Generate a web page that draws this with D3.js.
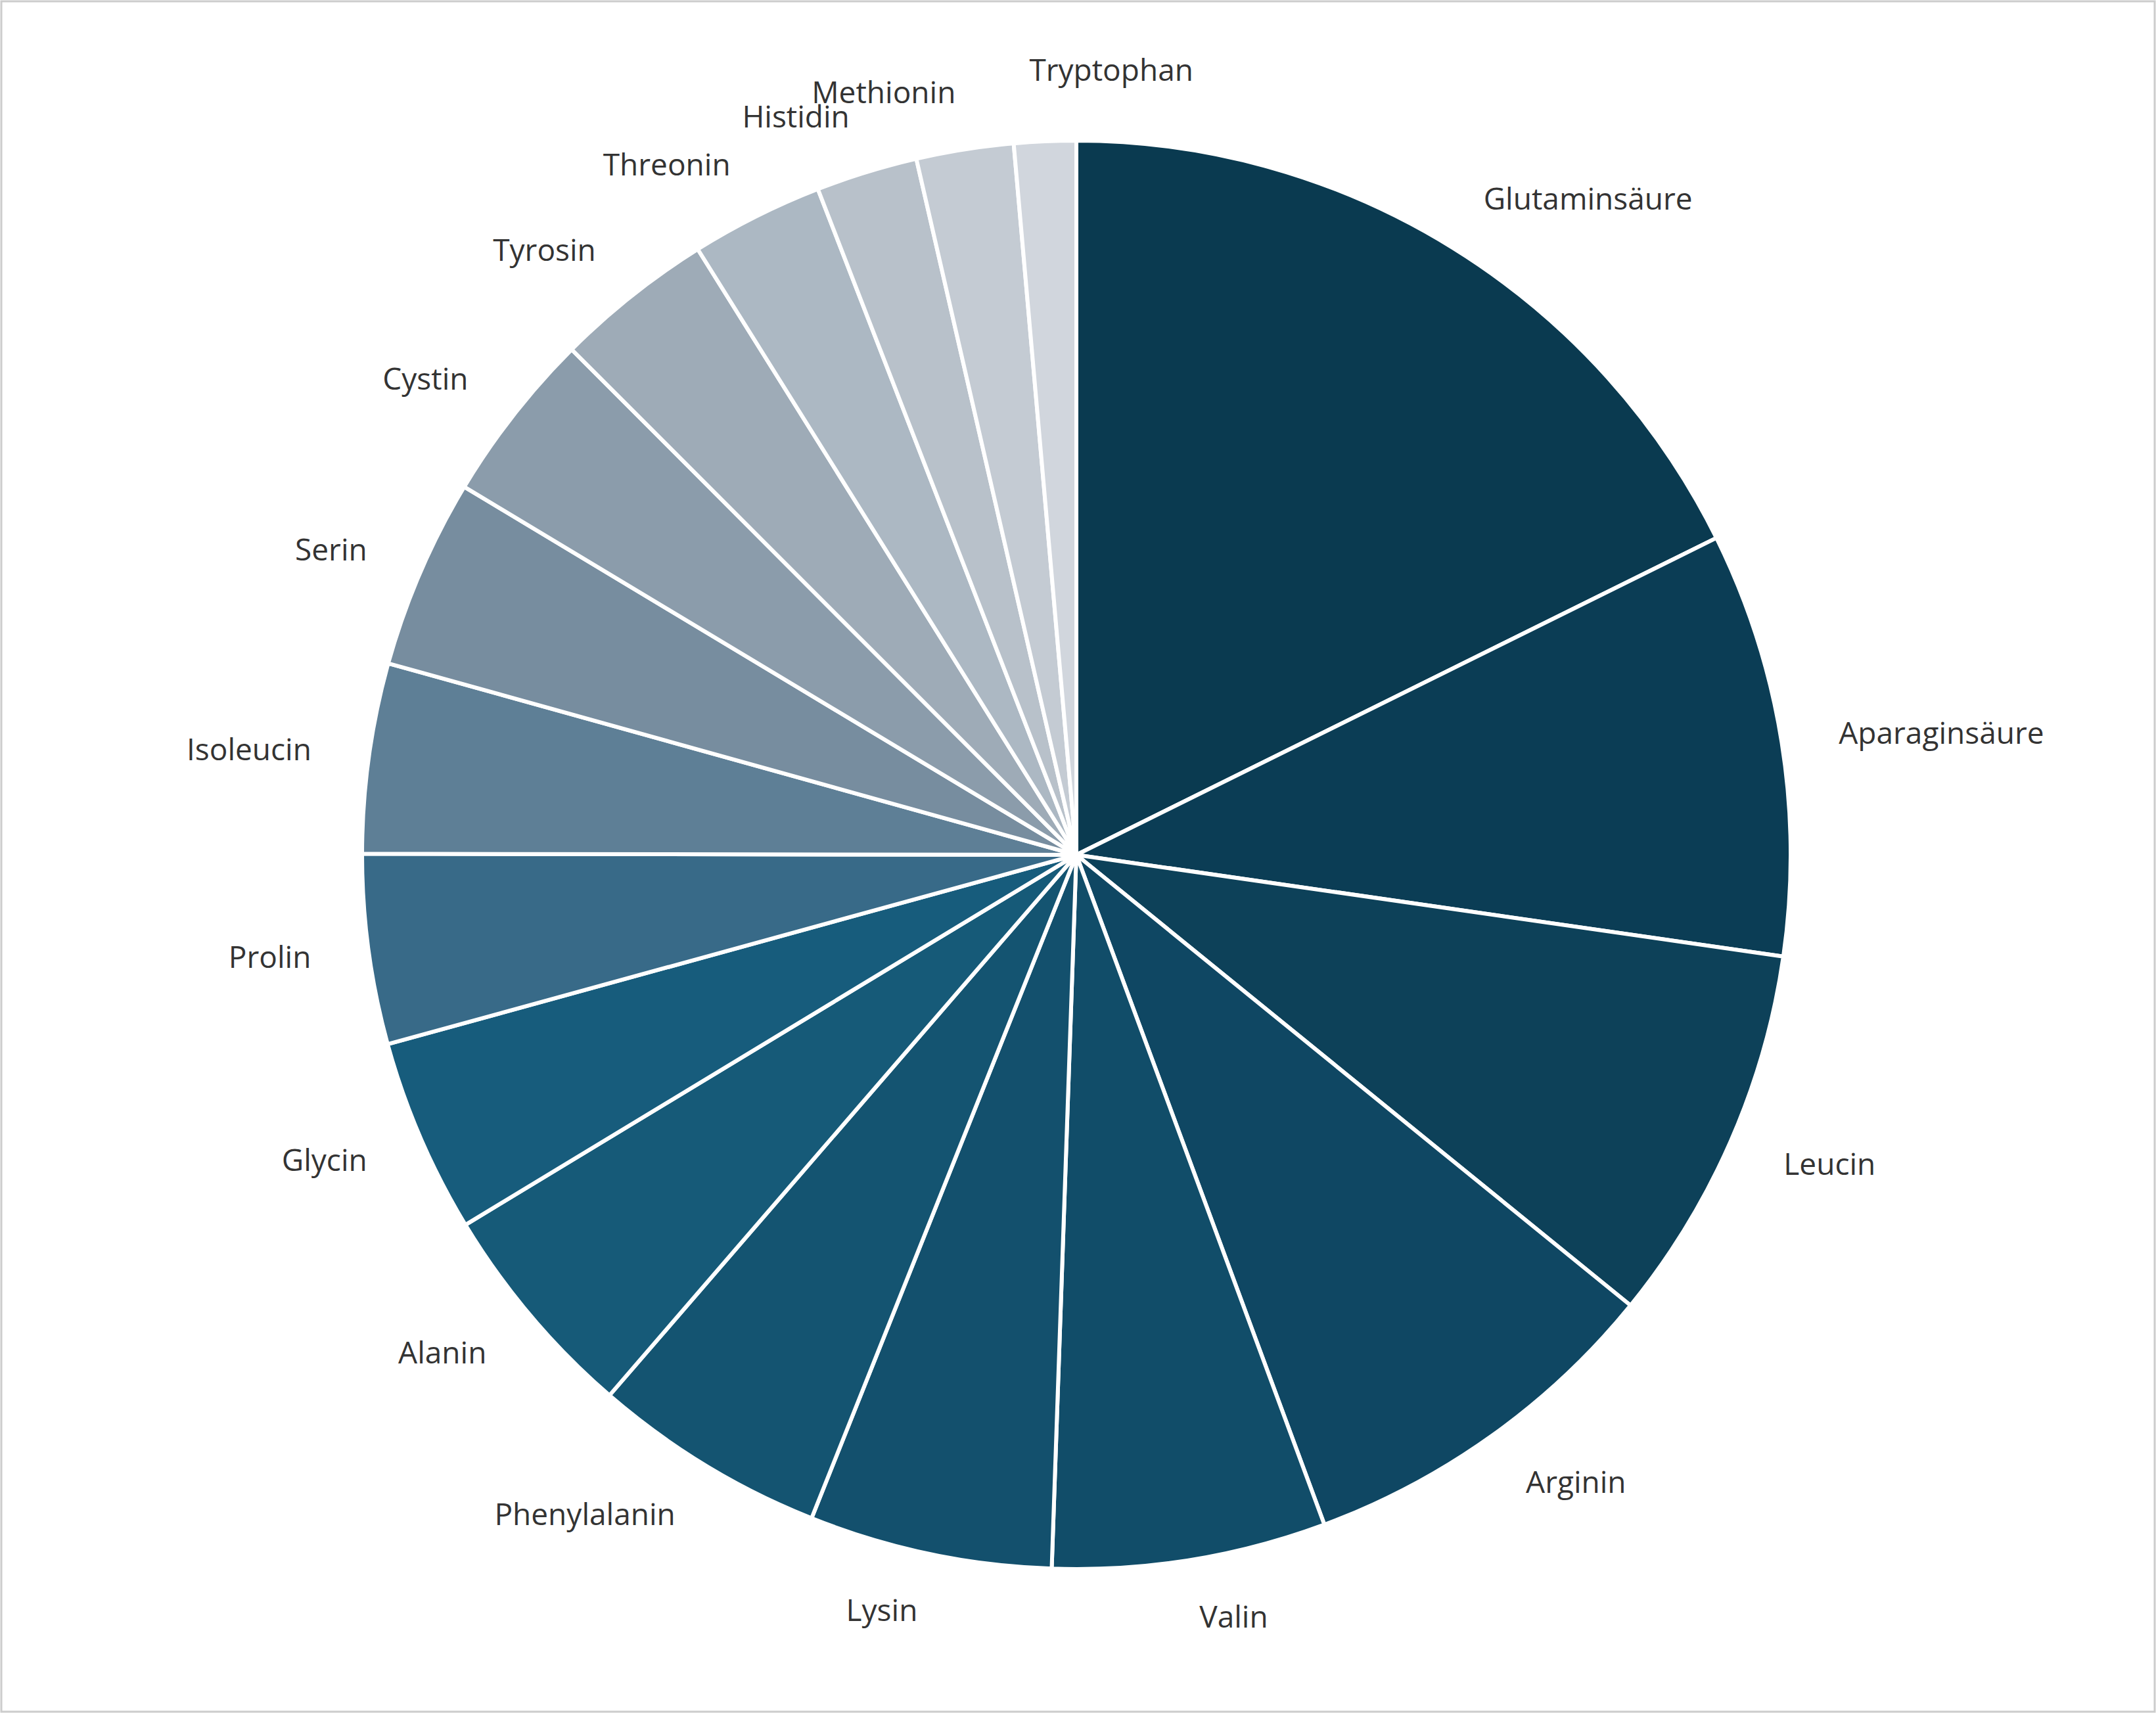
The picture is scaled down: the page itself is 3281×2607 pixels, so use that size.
<!DOCTYPE html>
<html><head><meta charset="utf-8">
<script src="https://cdn.jsdelivr.net/npm/d3@7"></script>
<style>body{margin:0;background:#fff}</style></head>
<body><svg id="c" width="3281" height="2607"></svg>
<script>
const categories=["Glutaminsäure","Aparaginsäure","Leucin","Arginin","Valin","Lysin","Phenylalanin","Alanin","Glycin","Prolin","Isoleucin","Serin","Cystin","Tyrosin","Threonin","Histidin","Methionin","Tryptophan"];
const values=[17.7,9.6,8.6,8.5,6.2,5.5,5.3,5.0,4.4,4.3,4.3,4.3,3.9,3.6,3.0,2.3,2.2,1.4];
const colors=["#0a3a50","#0b3d55","#0d4159","#0f4763","#114d69","#13506d","#145471","#165a78","#175c7c","#386a88","#5e7f96","#778d9f","#8b9cab","#9eabb7","#acb8c3","#b8c1ca","#c4cbd3","#d1d6dd"];
const svg=d3.select("#c");
svg.append("rect").attr("x",2).attr("y",2).attr("width",3277).attr("height",2603).attr("fill","#fff").attr("stroke","#ccc").attr("stroke-width",3);
const cx=1638,cy=1301,R=1087,LR=1175;
const data=categories.map((c,i)=>({c,v:values[i],col:colors[i]}));
const arcs=d3.pie().sort(null).value(d=>d.v)(data);
const g=svg.append("g").attr("transform",`translate(${cx},${cy})`);
const arc=d3.arc().innerRadius(0).outerRadius(R);
g.selectAll("path").data(arcs).join("path").attr("d",arc).attr("fill",d=>d.data.col).attr("stroke","#fff").attr("stroke-width",6).attr("stroke-linejoin","round");
g.selectAll("text").data(arcs).join("text")
 .each(function(d){
   const a=(d.startAngle+d.endAngle)/2;
   const s=Math.sin(a);
   let x=s*LR,y=-Math.cos(a)*LR,anchor=s>=0?"start":"end";
   if(Math.abs(s)<0.06){anchor="start";x-=20;y-=20;}
   d3.select(this).attr("x",x).attr("y",y).attr("dy","0.35em").attr("text-anchor",anchor);
 })
 .attr("font-family","'Open Sans',sans-serif").attr("font-size",46).attr("fill","#333")
 .text(d=>d.data.c);
</script></body></html>
